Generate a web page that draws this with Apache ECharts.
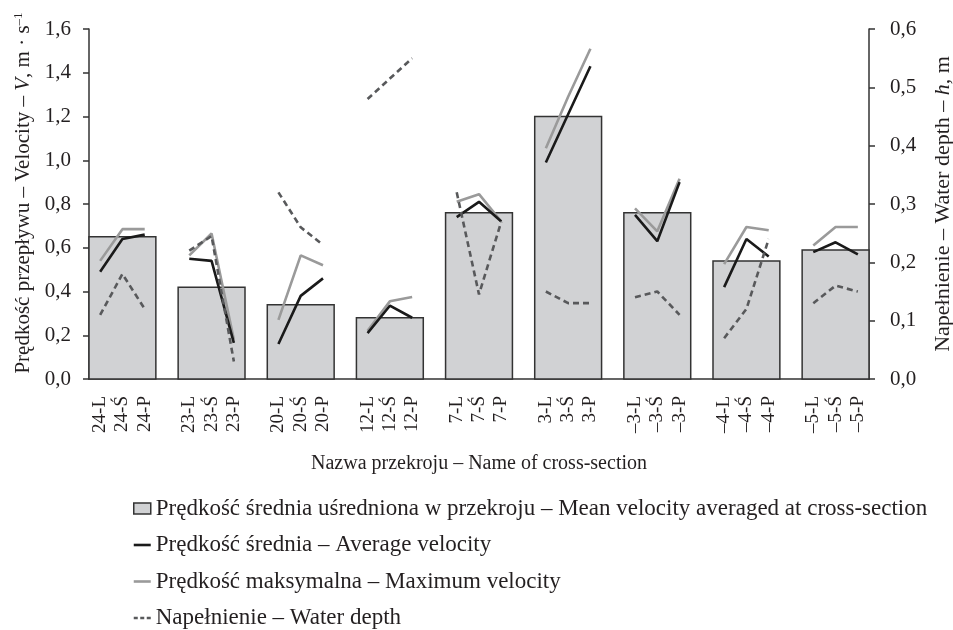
<!DOCTYPE html>
<html>
<head>
<meta charset="utf-8">
<script src="https://cdn.jsdelivr.net/npm/echarts@6/dist/echarts.min.js"></script>
<style>html,body{margin:0;padding:0;background:#fff}#c{width:953px;height:630px}</style>
</head>
<body>
<div id="c"></div>
<script>
// Cross-section groups and positions within each section
var sections = ['24', '23', '20', '12', '7', '3', '–3', '–4', '–5'];
var sides = ['L', 'Ś', 'P'];
// Mean velocity averaged at cross-section (one per section)
var meanVelocity = [0.65, 0.42, 0.34, 0.28, 0.76, 1.20, 0.76, 0.54, 0.59];
// Average velocity (per L, Ś, P)
var avgVelocity = [0.49, 0.64, 0.66, 0.55, 0.54, 0.165, 0.16, 0.38, 0.46, 0.21, 0.335, 0.28, 0.74, 0.81, 0.72, 0.99, 1.21, 1.43, 0.75, 0.63, 0.90, 0.42, 0.64, 0.56, 0.58, 0.625, 0.57];
// Maximum velocity
var maxVelocity = [0.54, 0.685, 0.685, 0.565, 0.665, 0.18, 0.27, 0.565, 0.52, 0.22, 0.355, 0.375, 0.81, 0.845, 0.72, 1.055, 1.29, 1.51, 0.78, 0.675, 0.915, 0.525, 0.695, 0.68, 0.61, 0.695, 0.695];
// Water depth
var waterDepth = [0.11, 0.18, 0.12, 0.22, 0.245, 0.03, 0.32, 0.26, 0.23, 0.48, 0.515, 0.55, 0.32, 0.145, 0.27, 0.15, 0.13, 0.13, 0.14, 0.15, 0.11, 0.07, 0.12, 0.24, 0.13, 0.16, 0.15];
var leftTicks = [0, 1.6, 0.2];
var rightTicks = [0, 0.6, 0.1];

var names = {
  bar: 'Prędkość średnia uśredniona w przekroju – Mean velocity averaged at cross-section',
  avg: 'Prędkość średnia – Average velocity',
  max: 'Prędkość maksymalna – Maximum velocity',
  depth: 'Napełnienie – Water depth'
};

// build category list with a blank slot between sections
var categories = [];
var gapCount = 0;
sections.forEach(function (s, gi) {
  if (gi > 0) { gapCount++; categories.push(new Array(gapCount + 1).join(' ')); }
  sides.forEach(function (p) { categories.push(s + '-' + p); });
});
function spread(vals) {
  var out = [];
  sections.forEach(function (s, gi) {
    if (gi > 0) out.push('-');
    for (var k = 0; k < 3; k++) out.push(vals[gi * 3 + k]);
  });
  return out;
}
var barData = meanVelocity.map(function (v, gi) { return [gi * 4 + 1, v]; });

var FONT = 'Liberation Serif';
var TXT = '#231f20';
var fmt = function (v) { return v.toFixed(1).replace('.', ','); };
var C_AVG = '#1a1a1a', C_MAX = '#9a9a9a', C_DEP = '#58595b';

var chart = echarts.init(document.getElementById('c'), null, {renderer: 'canvas'});
chart.setOption({
  animation: false,
  backgroundColor: '#fff',
  textStyle: {fontFamily: FONT, color: TXT},
  grid: {left: 89, right: 84, top: 29, bottom: 251, containLabel: false, outerBoundsMode: 'none'},
  legend: {
    orient: 'vertical', left: 133, top: 497, height: 140, padding: 0, itemGap: 13.5,
    itemWidth: 17, itemHeight: 11, symbolKeepAspect: true,
    textStyle: {fontFamily: FONT, fontSize: 23, lineHeight: 22, color: TXT},
    data: [
      {name: names.bar, icon: 'rect', itemStyle: {color: '#d1d2d4', borderColor: '#333', borderWidth: 1.5}},
      {name: names.avg, icon: 'path://M0,0h17v2.6h-17z', itemStyle: {color: C_AVG}},
      {name: names.max, icon: 'path://M0,0h17v2.6h-17z', itemStyle: {color: C_MAX}},
      {name: names.depth, icon: 'path://M0,0h4v2.6h-4z M6.5,0h4v2.6h-4z M13,0h4v2.6h-4z', itemStyle: {color: C_DEP}}
    ]
  },
  xAxis: {
    type: 'category', data: categories, boundaryGap: true,
    name: 'Nazwa przekroju – Name of cross-section', nameLocation: 'middle', nameGap: 75,
    nameTextStyle: {fontFamily: FONT, fontSize: 20, color: TXT},
    axisLine: {lineStyle: {color: '#333', width: 1.5}},
    axisTick: {interval: 0, length: 6, lineStyle: {color: '#333', width: 1.5}},
    axisLabel: {interval: 0, rotate: 90, margin: 17, fontFamily: FONT, fontSize: 19, color: TXT},
    splitLine: {show: false}
  },
  yAxis: [{
    type: 'value', min: leftTicks[0], max: leftTicks[1], interval: leftTicks[2],
    name: '{a|Prędkość przepływu – Velocity – }{i|V}{a|, m · s}{s|–1}',
    nameLocation: 'middle', nameGap: 52, nameRotate: 90,
    nameTextStyle: {fontFamily: FONT, fontSize: 21, color: TXT, padding: [0, 0, 0, 22],
      rich: {a: {fontFamily: FONT, fontSize: 21, color: TXT},
             i: {fontFamily: FONT, fontSize: 21, color: TXT, fontStyle: 'italic'},
             s: {fontFamily: FONT, fontSize: 13, color: TXT, verticalAlign: 'top', padding: [0, 0, 10, 0]}}},
    axisLine: {show: true, lineStyle: {color: '#333', width: 1.5}},
    axisTick: {show: true, length: 6, lineStyle: {color: '#333', width: 1.5}},
    axisLabel: {formatter: fmt, margin: 18, fontFamily: FONT, fontSize: 21, color: TXT},
    splitLine: {show: false}
  }, {
    type: 'value', position: 'right', min: rightTicks[0], max: rightTicks[1], interval: rightTicks[2],
    name: '{a|Napełnienie – Water depth – }{i|h}{a|, m}',
    nameLocation: 'middle', nameGap: 63, nameRotate: 90,
    nameTextStyle: {fontFamily: FONT, fontSize: 22, color: TXT,
      rich: {a: {fontFamily: FONT, fontSize: 22, color: TXT},
             i: {fontFamily: FONT, fontSize: 22, color: TXT, fontStyle: 'italic'}}},
    axisLine: {show: true, lineStyle: {color: '#333', width: 1.5}},
    axisTick: {show: true, length: 6, lineStyle: {color: '#333', width: 1.5}},
    axisLabel: {formatter: fmt, margin: 21, fontFamily: FONT, fontSize: 21, color: TXT},
    splitLine: {show: false}
  }],
  series: [{
    name: names.bar, type: 'custom', data: barData,
    itemStyle: {color: '#d1d2d4', borderColor: '#333', borderWidth: 1.5},
    renderItem: function (params, api) {
      var idx = api.value(0), v = api.value(1);
      var top = api.coord([idx, v]);
      var base = api.coord([idx, 0]);
      var bw = api.size([1, 0])[0];
      return {
        type: 'rect',
        shape: {x: top[0] - 1.5 * bw, y: top[1], width: 3 * bw, height: base[1] - top[1]},
        style: {fill: '#d1d2d4', stroke: '#333', lineWidth: 1.5}
      };
    },
    z: 1
  }, {
    name: names.max, type: 'line', data: spread(maxVelocity), symbol: 'none',
    connectNulls: false, color: C_MAX, lineStyle: {color: C_MAX, width: 2.6}, z: 3
  }, {
    name: names.avg, type: 'line', data: spread(avgVelocity), symbol: 'none',
    connectNulls: false, color: C_AVG, lineStyle: {color: C_AVG, width: 2.6}, z: 4
  }, {
    name: names.depth, type: 'line', yAxisIndex: 1, data: spread(waterDepth), symbol: 'none',
    connectNulls: false, color: C_DEP, lineStyle: {color: C_DEP, width: 2.6, type: [6, 4]}, z: 5
  }]
});
</script>
</body>
</html>
